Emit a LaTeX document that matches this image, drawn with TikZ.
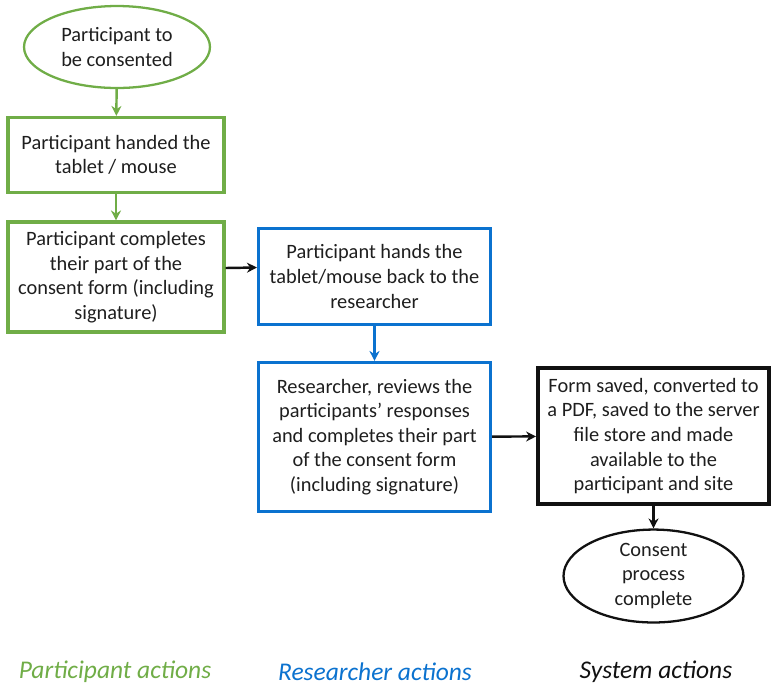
\documentclass[tikz,border=0pt]{standalone}
\usepackage{fontspec}
\setmainfont{Carlito}
\usetikzlibrary{arrows.meta,positioning,shapes.geometric}
\definecolor{PartGreen}{HTML}{70AD47}
\definecolor{ResBlue}{HTML}{0B72CF}
\definecolor{SysInk}{HTML}{111111}
\definecolor{TextInk}{HTML}{1E1E1E}

\begin{document}
\begin{tikzpicture}[x=0.02cm,y=-0.02cm,>=Stealth]
  \tikzset{
    block/.style={draw,rectangle,align=center,text=TextInk,inner sep=2pt,
      font=\fontsize{11.6}{14}\selectfont,line width=1.8pt},
    term/.style={draw,ellipse,align=center,text=TextInk,inner sep=0pt,
      font=\fontsize{11.6}{14}\selectfont,line width=1.3pt},
    flow/.style={-{Stealth[length=2mm,width=2mm]},line width=1.4pt},
    lane/.style={font=\fontsize{14.5}{17}\selectfont\itshape}
  }
  \useasboundingbox (0,0) rectangle (778,691);
  % participant column
  \node[term,draw=PartGreen,minimum width=3.72cm,minimum height=1.64cm] (start) at (117,47) {Participant to\\be consented};
  \node[block,draw=PartGreen,minimum width=4.32cm,minimum height=1.5cm] (hand) at (116,155) {Participant handed the\\tablet / mouse};
  \node[block,draw=PartGreen,minimum width=4.32cm,minimum height=2.2cm] (comp) at (116,277) {Participant completes\\their part of the\\consent form (including\\signature)};
  % researcher column
  \node[block,draw=ResBlue,minimum width=4.64cm,minimum height=1.92cm] (back) at (374.5,276.5) {Participant hands the\\tablet/mouse back to the\\researcher};
  \node[block,draw=ResBlue,minimum width=4.64cm,minimum height=2.98cm] (review) at (374.5,437) {Researcher, reviews the\\participants’ responses\\and completes their part\\of the consent form\\(including signature)};
  % system column
  \node[block,draw=SysInk,line width=2.2pt,minimum width=4.62cm,minimum height=2.72cm] (sys) at (653.5,436) {Form saved, converted to\\a PDF, saved to the server\\file store and made\\available to the\\participant and site};
  \node[term,draw=SysInk,minimum width=3.6cm,minimum height=1.74cm,below=0.45cm of sys] (done) {Consent\\process\\complete};
  \draw[flow,draw=PartGreen] (start) -- (hand);
  \draw[flow,draw=PartGreen] (hand) -- (comp);
  \draw[flow,draw=SysInk] ([yshift=0.18cm]comp.east) -- ([yshift=0.18cm]back.west);
  \draw[flow,draw=ResBlue] (back) -- (review);
  \draw[flow,draw=SysInk] (review) -- (sys);
  \draw[flow,draw=SysInk] (sys) -- (done);
  % lane labels
  \node[lane,text=PartGreen] (lpart) at (115,672) {Participant actions};
  \node[lane,text=ResBlue] (lres) at (375,672) {Researcher actions};
  \node[lane,text=SysInk] (lsys) at (656,672) {System actions};
\end{tikzpicture}
\end{document}
